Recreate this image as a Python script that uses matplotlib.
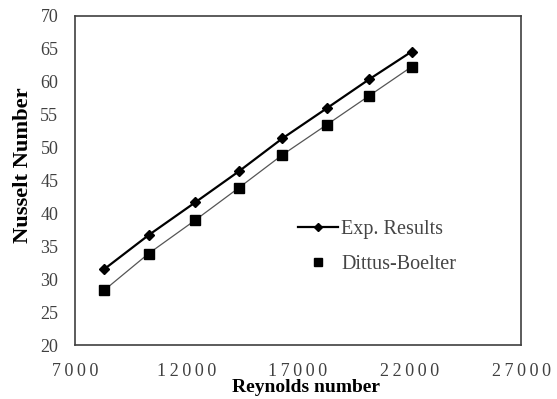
import matplotlib.pyplot as plt

# Reynolds number and Nusselt number values
reynolds = [8300, 10300, 12400, 14350, 16300, 18300, 20200, 22100]
nu_exp = [31.5, 36.7, 41.7, 46.4, 51.4, 56.0, 60.4, 64.6]
nu_db = [28.3, 33.9, 39.0, 43.9, 48.9, 53.5, 57.9, 62.3]

x_ticks = [7000, 12000, 17000, 22000, 27000]
y_ticks = [20, 25, 30, 35, 40, 45, 50, 55, 60, 65, 70]

plt.rcParams['font.family'] = ['Liberation Serif', 'DejaVu Serif']

fig = plt.figure(figsize=(5.57, 3.99), dpi=100)
ax = fig.add_axes([0.1347, 0.1353, 0.8007, 0.8246])

ax.plot(reynolds, nu_exp, color='black', lw=1.6, marker='D', ms=5,
        label='Exp. Results')
ax.plot(reynolds, nu_db, color='#555555', lw=0.9)
ax.plot(reynolds, nu_db, ls='none', color='black', marker='s', ms=7.2,
        label='Dittus-Boelter')

ax.set_xlim(7000, 27000)
ax.set_ylim(20, 70)
ax.set_xticks(x_ticks)
# spaced-out digits like the original
ax.set_xticklabels(['\u2009'.join(str(t)) for t in x_ticks], fontsize=12.5)
ax.set_yticks(y_ticks)
ax.tick_params(length=0, labelsize=13, colors='#404040')
ax.tick_params(axis='y', pad=12)
ax.tick_params(axis='x', pad=13)

for s in ax.spines.values():
    s.set_color('#404040')
    s.set_linewidth(1.2)

ax.set_xlabel('Reynolds number', fontsize=14, fontweight='bold')
ax.xaxis.set_label_coords(0.518, -0.103)
ax.set_ylabel('Nusselt Number', fontsize=16.2, fontweight='bold')
ax.yaxis.set_label_coords(-0.095, 0.546)

leg = ax.legend(loc='center left', bbox_to_anchor=(0.459, 0.298), frameon=False,
                fontsize=14.5, labelspacing=0.75, handlelength=2.0,
                handletextpad=0.15, markerscale=0.85)
for t in leg.get_texts():
    t.set_color('#454545')

fig.savefig('out.png', dpi=100)
